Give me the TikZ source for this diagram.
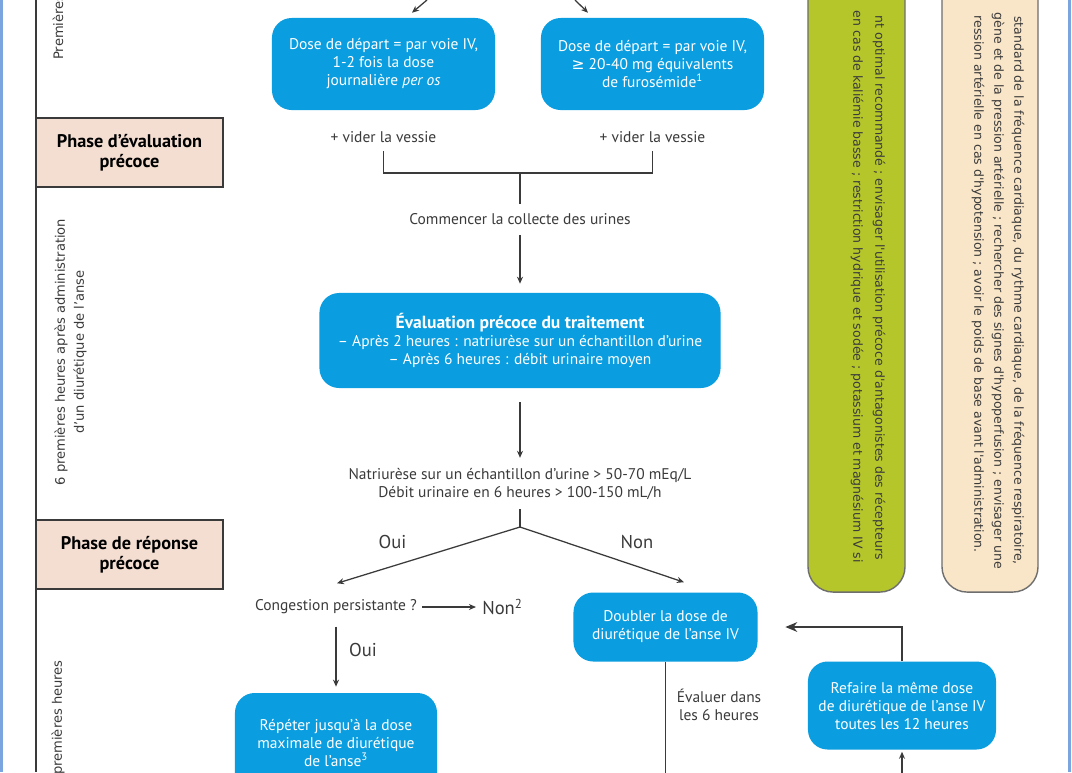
\documentclass[tikz,border=0pt]{standalone}
\usepackage{fontspec}
\setmainfont{PT Sans}
\newfontfamily\cote{DejaVu Sans}
\usetikzlibrary{arrows.meta}

\definecolor{bleu}{HTML}{0A9DDF}
\definecolor{rose}{HTML}{F4DDD1}
\definecolor{vert}{HTML}{B5C62B}
\definecolor{beige}{HTML}{F9E5C7}
\definecolor{cadre}{HTML}{7BA5DE}
\definecolor{gris}{HTML}{3A3A3A}
\definecolor{bord}{HTML}{6E6E6E}

\tikzset{
  boite/.style={fill=bleu, text=white, rounded corners=14pt, align=center, inner sep=0pt, font=\fontsize{11}{12.8}\selectfont},
  phase/.style={draw=gris, line width=1pt, fill=rose, align=center, inner sep=0pt, minimum width=4.675cm, minimum height=1.725cm, font=\fontsize{13}{14.5}\selectfont\bfseries},
  txt/.style={text=gris, align=center, inner sep=0pt, font=\fontsize{11}{12.8}\selectfont},
  grand/.style={text=gris, inner sep=0pt, font=\fontsize{13.2}{15}\selectfont},
  lab/.style={text=gris, inner sep=0pt, font=\cote\fontsize{9.3}{13.5}\selectfont},
  cote/.style={text=gris, inner sep=0pt, rotate=-90, anchor=east, font=\cote\fontsize{8.9}{10}\selectfont},
  colonne/.style={draw=bord, line width=1pt, rounded corners=18pt, minimum width=2.425cm, minimum height=15.8cm},
  trait/.style={draw=gris, line width=0.9pt},
  fl/.style={trait, -{Stealth[length=5pt,width=4.3pt]}},
  flg/.style={trait, -{Stealth[length=8.5pt,width=7pt]}},
}

\begin{document}
\begin{tikzpicture}[x=0.025cm, y=-0.025cm]
  \useasboundingbox (0,0) rectangle (1072,772);
  \clip (0,0) rectangle (1072,772);

  % cadre et axe du temps
  \draw[cadre, line width=2.1pt] (1.5,0) -- (1.5,772);
  \draw[cadre, line width=2.1pt] (1069.5,0) -- (1069.5,772);
  \draw[trait] (36,0) -- (36,772);

  \node[phase] (ph1) at (129.5,152.5) {Phase d’évaluation\\précoce};
  \node[phase] (ph2) at (129.5,554.5) {Phase de réponse\\précoce};

  \node[lab, rotate=90, anchor=west] (l1) at (58,60) {Premières};
  \node[lab, rotate=90, align=center] (l2) at (70.5,352) {6 premières heures après administration\\d’un diurétique de l’anse};
  \node[lab, rotate=90, anchor=east] (l3) at (58,660) {premières heures};

  % colonnes de droite
  \node[colonne, fill=vert] (cv) at (856.5,276) {};
  \node[colonne, fill=beige, minimum width=2.4cm] (cb) at (990,276) {};
  \node[cote] (cv1) at (879,560) {nt optimal recommandé ; envisager l'utilisation précoce d'antagonistes des récepteurs};
  \node[cote] (cv2) at (857,563) {en cas de kaliémie basse ; restriction hydrique et sodée ; potassium et magnésium IV si};
  \node[cote] (cb1) at (1018,565) {standard de la fréquence cardiaque, du rythme cardiaque, de la fréquence respiratoire,};
  \node[cote] (cb2) at (998,569) {gène et de la pression artérielle ; rechercher des signes d'hypoperfusion ; envisager une};
  \node[cote] (cb3) at (978,553) {ression artérielle en cas d'hypotension ; avoir le poids de base avant l'administration.};

  % premiere dose
  \node[boite, minimum width=5.575cm, minimum height=2.3cm] (d1) at (383.5,64) {Dose de départ = par voie IV,\\1-2 fois la dose\\journalière \textit{per os}};
  \node[boite, minimum width=5.575cm, minimum height=2.3cm] (d2) at (652.5,64) {Dose de départ = par voie IV,\\{\cote ≥} 20-40 mg équivalents\\de furosémide\textsuperscript{1}};
  \coordinate (h1) at (427,0);
  \coordinate (h2) at (575,0);
  \draw[fl] (h1) -- ([shift={(28.5,-5)}]d1.north);
  \draw[fl] (h2) -- ([shift={(-64.5,-5)}]d2.north);

  \node[txt] (vid1) at (383.5,137) {+ vider la vessie};
  \node[txt] (vid2) at (652.5,137) {+ vider la vessie};
  \coordinate (j) at (520,173);
  \draw[trait, shorten <=5.9pt, shorten >=5.9pt] (vid1.south) |- (j) -| (vid2.south);

  \node[txt] (coll) at (520,219) {Commencer la collecte des urines};
  \draw[trait, shorten >=6.6pt] (j) -- (coll);

  \node[boite, minimum width=10.025cm, minimum height=2.375cm] (eval) at (520,340.5) {{\fontsize{12.5}{12.8}\selectfont\bfseries Évaluation précoce du traitement}\\– Après 2 heures : natriurèse sur un échantillon d’urine\\– Après 6 heures : débit urinaire moyen};
  \draw[fl, shorten <=7.5pt, shorten >=6.4pt] (coll) -- (eval);

  \node[txt] (crit) at (520,484) {Natriurèse sur un échantillon d’urine > 50-70 mEq/L\\Débit urinaire en 6 heures > 100-150 mL/h};
  \draw[fl, shorten <=10pt, shorten >=7.3pt] (eval) -- (crit);

  % reponse
  \coordinate (bif) at (520,527);
  \draw[trait, shorten <=6.6pt] (crit) -- (bif);
  \node[txt] (cong) at (336,607) {Congestion persistante ?};
  \node[boite, minimum width=4.6cm, minimum height=1.725cm] (dbl) at (665.5,627) {Doubler la dose de\\diurétique de l’anse IV};
  \draw[fl] (bif) -- ([shift={(1,-16.3)}]cong.north);
  \draw[fl] (bif) -- ([shift={(18.5,-10)}]dbl.north);
  \node[grand] (oui1) at (392.5,542) {Oui};
  \node[grand] (non1) at (637,542) {Non};

  \node[grand, anchor=west] (non2) at (482,607) {Non\textsuperscript{2}};
  \draw[fl, shorten <=3.5pt, shorten >=4.3pt] (cong) -- (non2);

  \node[boite, minimum width=5.05cm, minimum height=2.5cm] (rep) at (336,743) {Répéter jusqu’à la dose\\maximale de diurétique\\de l’anse\textsuperscript{3}};
  \draw[fl, shorten <=8.7pt, shorten >=4.3pt] (cong) -- (rep);
  \node[grand] (oui2) at (363,650) {Oui};

  \coordinate (bas1) at (665.5,790);
  \draw[trait] (dbl) -- (bas1);
  \node[txt] (ev6) at (719,705) {Évaluer dans\\les 6 heures};

  \node[boite, minimum width=4.7cm, minimum height=2.2cm] (ref) at (902,705.5) {Refaire la même dose\\de diurétique de l’anse IV\\toutes les 12 heures};
  \coordinate (bas2) at (902,790);
  \draw[fl, shorten >=1.4pt] (bas2) -- (ref);
  \draw[flg, shorten >=19.6pt] (ref.north) |- (dbl);
\end{tikzpicture}
\end{document}
